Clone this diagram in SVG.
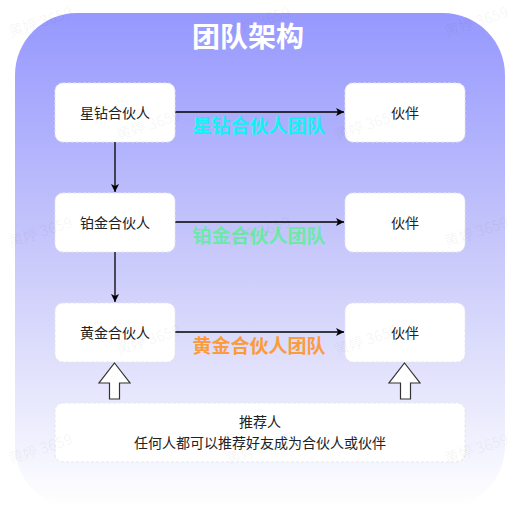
<svg xmlns="http://www.w3.org/2000/svg" width="520" height="527" viewBox="0 0 520 527">
<defs>
<linearGradient id="bg" x1="0" y1="0" x2="0" y2="1">
<stop offset="0" stop-color="#9698fe"/>
<stop offset="0.5" stop-color="#cacafb"/>
<stop offset="1" stop-color="#ffffff"/>
</linearGradient>
<marker id="ah" markerWidth="10" markerHeight="10" refX="9" refY="5" orient="auto" markerUnits="userSpaceOnUse">
<path d="M1,1 L9,5 L1,9 L3,5 Z" fill="#000"/>
</marker>
<style>
.box{fill:#fff;stroke:#e6e6ee;stroke-width:1;stroke-dasharray:3 2}
.t{font-family:"Noto Sans CJK SC","Noto Sans",sans-serif;font-size:14px;fill:#222;text-anchor:middle;dominant-baseline:central}
.lbl{font-family:"Noto Sans CJK SC","Noto Sans",sans-serif;font-size:19px;font-weight:bold;text-anchor:middle}
.wm{font-family:"Noto Sans CJK SC","Noto Sans",sans-serif;font-size:15px;fill:#000;fill-opacity:0.05;text-anchor:middle}
.ln{stroke:#000;stroke-width:1.3;fill:none}
.blk{fill:#fff;stroke:#333;stroke-width:1.2}
</style>
</defs>
<rect x="0" y="0" width="520" height="527" fill="#fff"/>
<rect id="panel" x="15" y="13" width="490" height="495" rx="62" fill="url(#bg)"/>
<text x="248" y="47" font-family="Noto Sans CJK SC,Noto Sans,sans-serif" font-size="28" font-weight="bold" fill="#fff" text-anchor="middle">团队架构</text>
<g id="connectors">
<line class="ln" x1="175" y1="112" x2="344" y2="112" marker-end="url(#ah)"/>
<line class="ln" x1="175" y1="222" x2="344" y2="222" marker-end="url(#ah)"/>
<line class="ln" x1="175" y1="332" x2="344" y2="332" marker-end="url(#ah)"/>
<line class="ln" x1="115" y1="142" x2="115" y2="192" marker-end="url(#ah)"/>
<line class="ln" x1="115" y1="252" x2="115" y2="302" marker-end="url(#ah)"/>
<path class="blk" d="M114.5,363 L130,383 L119.5,383 L119.5,399 L109.5,399 L109.5,383 L99,383 Z"/>
<path class="blk" d="M404.5,363 L420,383 L410.5,383 L410.5,399 L400.5,399 L400.5,383 L389,383 Z"/>
</g>
<text class="lbl" x="259" y="133" fill="#16f2f2">星钻合伙人团队</text>
<text class="lbl" x="259" y="243" fill="#6ce9a6">铂金合伙人团队</text>
<text class="lbl" x="259" y="353" fill="#fb9b3c">黄金合伙人团队</text>
<g id="n1"><rect class="box" x="55" y="83" width="120" height="59" rx="8"/><text class="t" x="115" y="112">星钻合伙人</text></g>
<g id="n2"><rect class="box" x="345" y="83" width="120" height="59" rx="8"/><text class="t" x="405" y="112">伙伴</text></g>
<g id="n3"><rect class="box" x="55" y="193" width="120" height="59" rx="8"/><text class="t" x="115" y="222">铂金合伙人</text></g>
<g id="n4"><rect class="box" x="345" y="193" width="120" height="59" rx="8"/><text class="t" x="405" y="222">伙伴</text></g>
<g id="n5"><rect class="box" x="55" y="303" width="120" height="59" rx="8"/><text class="t" x="115" y="332">黄金合伙人</text></g>
<g id="n6"><rect class="box" x="345" y="303" width="120" height="59" rx="8"/><text class="t" x="405" y="332">伙伴</text></g>
<g id="n7"><rect class="box" x="55" y="403" width="410" height="59" rx="8"/><text class="t" x="260" y="421">推荐人</text><text class="t" x="260" y="441.5">任何人都可以推荐好友成为合伙人或伙伴</text></g>
<g id="watermark">
<text class="wm" transform="translate(42,27) rotate(-18)">黄婷 3659</text>
<text class="wm" transform="translate(260,27) rotate(-18)">黄婷 3659</text>
<text class="wm" transform="translate(478,27) rotate(-18)">黄婷 3659</text>
<text class="wm" transform="translate(150,130) rotate(-18)">黄婷 3659</text>
<text class="wm" transform="translate(368,130) rotate(-18)">黄婷 3659</text>
<text class="wm" transform="translate(42,237) rotate(-18)">黄婷 3659</text>
<text class="wm" transform="translate(260,237) rotate(-18)">黄婷 3659</text>
<text class="wm" transform="translate(478,237) rotate(-18)">黄婷 3659</text>
<text class="wm" transform="translate(150,345) rotate(-18)">黄婷 3659</text>
<text class="wm" transform="translate(368,345) rotate(-18)">黄婷 3659</text>
<text class="wm" transform="translate(42,454) rotate(-18)">黄婷 3659</text>
<text class="wm" transform="translate(260,454) rotate(-18)">黄婷 3659</text>
<text class="wm" transform="translate(478,454) rotate(-18)">黄婷 3659</text>
</g>
</svg>
